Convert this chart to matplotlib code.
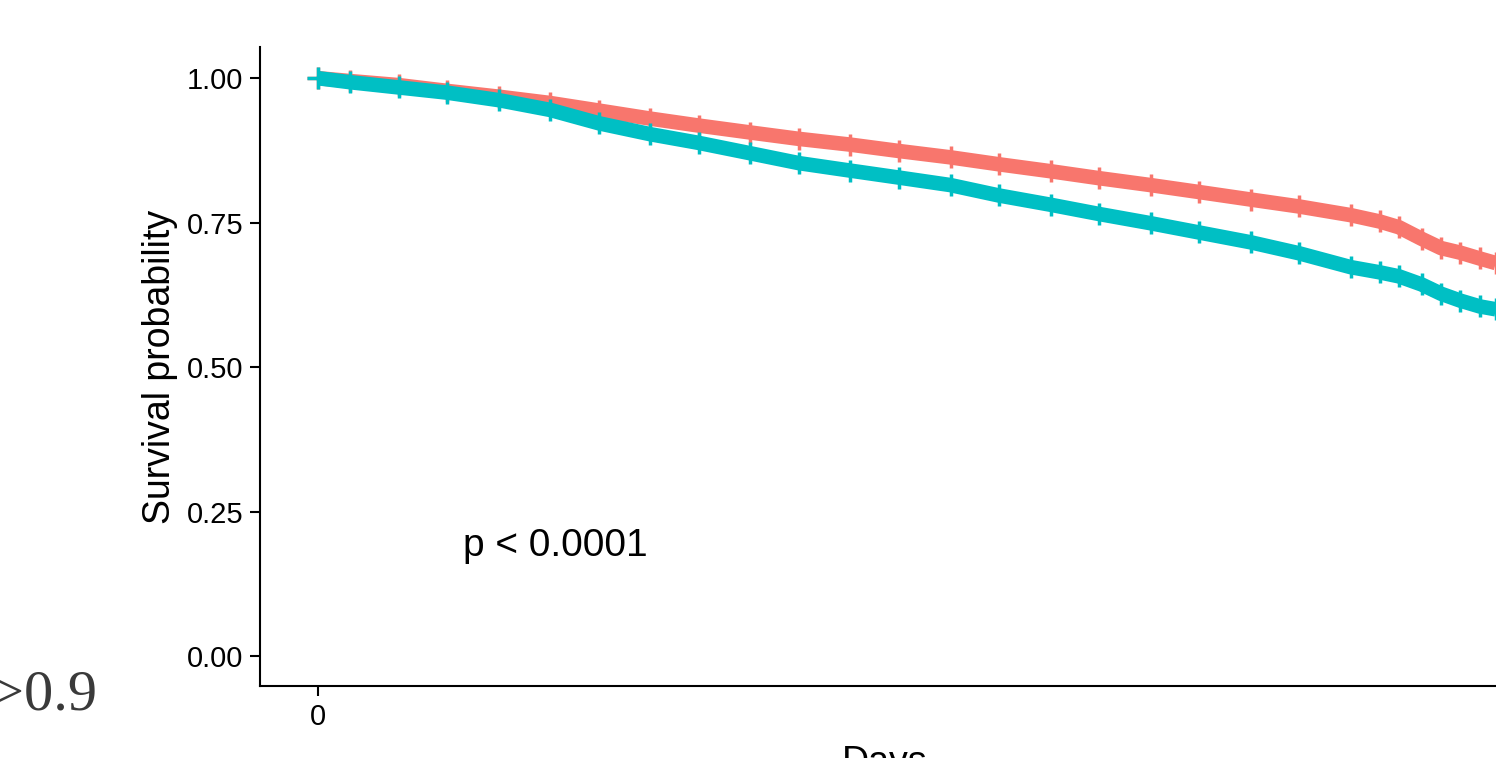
import matplotlib.pyplot as plt

# survival curves read at matching follow-up days
days = [0, 100, 250, 400, 560, 720, 870, 1030, 1180, 1340, 1490, 1650, 1800, 1960,
        2110, 2270, 2420, 2580, 2730, 2890, 3040, 3200, 3290, 3350, 3420, 3480,
        3540, 3600, 3650]
surv_red = [1.000, 0.995, 0.988, 0.978, 0.968, 0.957, 0.944, 0.930, 0.918, 0.906,
            0.895, 0.885, 0.874, 0.863, 0.851, 0.839, 0.827, 0.815, 0.803, 0.790,
            0.778, 0.763, 0.752, 0.742, 0.722, 0.706, 0.698, 0.688, 0.680]
surv_teal = [1.000, 0.993, 0.984, 0.975, 0.962, 0.945, 0.922, 0.903, 0.888, 0.870,
             0.853, 0.840, 0.828, 0.815, 0.797, 0.781, 0.765, 0.749, 0.733, 0.716,
             0.697, 0.673, 0.664, 0.657, 0.643, 0.627, 0.615, 0.605, 0.600]
y_ticks = [0.00, 0.25, 0.50, 0.75, 1.00]
x_ticks = [0]
pval_text = "p < 0.0001"
side_text = ">0.9"

RED = "#F8766D"
TEAL = "#00BFC4"

fig = plt.figure(figsize=(14.96, 7.58), dpi=100)
plt.rcParams["font.family"] = ["Liberation Sans", "DejaVu Sans"]

# axes run past the right edge of the figure
W, H = 1496, 758
ax = fig.add_axes([260 / W, (H - 686) / H, (1510 - 260) / W, (686 - 47) / H])

for surv, col in [(surv_red, RED), (surv_teal, TEAL)]:
    ax.plot(days, surv, color=col, lw=10.5, solid_capstyle="butt",
            marker="+", ms=16, mew=2.5, mec=col)

ax.set_yticks(y_ticks)
ax.set_yticklabels([f"{v:.2f}" for v in y_ticks])
ax.set_xticks(x_ticks)
ax.set_xticklabels([str(v) for v in x_ticks])
ax.set_xlim(-180, 3694)
ax.set_ylim(-0.052, 1.054)

for side in ["top", "right"]:
    ax.spines[side].set_visible(False)
for side in ["left", "bottom"]:
    ax.spines[side].set_linewidth(1.5)
ax.tick_params(axis="both", length=7, width=1.5, labelsize=21, pad=5, colors="black")

ax.set_ylabel("Survival probability", fontsize=27, labelpad=6)
ax.set_xlabel("Days", fontsize=27, labelpad=10)

ax.text(450, 0.19, pval_text, fontsize=28, ha="left", va="center")

fig.text(97 / W, (H - 710) / H, side_text, fontsize=42, family="Liberation Serif",
         color="#3a3a3a", ha="right", va="baseline")

fig.savefig("out.png", dpi=100)
